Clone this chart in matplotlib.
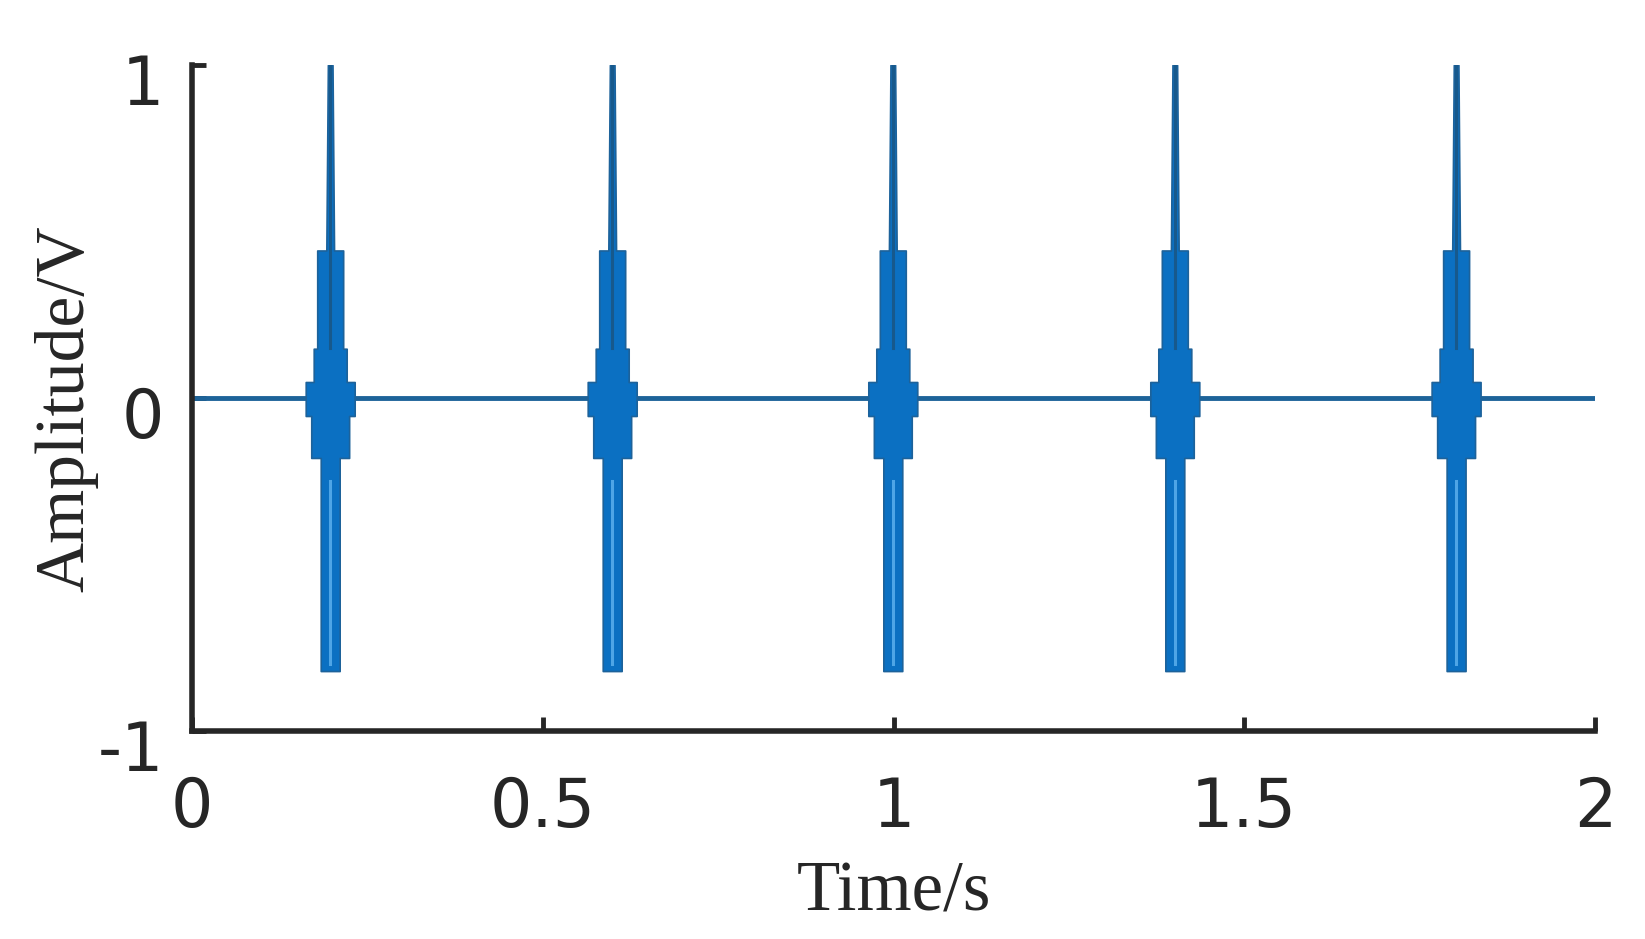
import matplotlib
matplotlib.use("Agg")
import matplotlib.pyplot as plt
from matplotlib.transforms import ScaledTranslation

# centres of the five bursts (s)
burst_t = [0.197, 0.599, 0.999, 1.401, 1.802]

# burst outline: amplitude levels and half width (s)
env_y = [1.0, 0.443, 0.443, 0.148, 0.148, 0.048, 0.048, -0.054, -0.054, -0.18, -0.18, -0.82]
env_hw = [0.0033, 0.0055, 0.0185, 0.0185, 0.0235, 0.0235, 0.0349, 0.0349, 0.027, 0.027, 0.0135, 0.0135]

# darker core of the upper spike, lighter gap in the lower part
core_y = [1.0, 0.15]
gap_y = [-0.25, -0.80]

# baseline between bursts
base_t = [0.0, 2.0]
base_y = [0.0, 0.0]

x_ticks = [0, 0.5, 1, 1.5, 2]
x_labels = ["0", "0.5", "1", "1.5", "2"]
y_ticks = [-1, 0, 1]
y_labels = ["-1", "0", "1"]

blue = "#0b70c2"
dark = "#262626"

fig = plt.figure(figsize=(16.45, 9.39), dpi=100)
ax = fig.add_axes([192 / 1645, 1 - 731 / 939, (1595 - 192) / 1645, (731 - 65) / 939])

ax.plot(base_t, base_y, color="#1d6399", lw=3.5, zorder=2)
for c in burst_t:
    left = [c - h for h in env_hw]
    right = [c + h for h in env_hw]
    ax.fill_betweenx(env_y, left, right, facecolor=blue, edgecolor="#1d629a", lw=1.2, zorder=3)
    ax.plot([c, c], core_y, color="#17598c", lw=2.2, zorder=4)
    ax.plot([c, c], gap_y, color="#4ea5e6", lw=2.2, zorder=4)

ax.set_xlim(0, 2)
ax.set_ylim(-1, 1)
ax.set_xticks(x_ticks)
ax.set_xticklabels(x_labels)
ax.set_yticks(y_ticks)
ax.set_yticklabels(y_labels)

for s in ["top", "right"]:
    ax.spines[s].set_visible(False)
for s in ["left", "bottom"]:
    ax.spines[s].set_linewidth(4)
    ax.spines[s].set_color(dark)

ax.tick_params(direction="in", length=10, width=3.5, color=dark, labelcolor=dark,
               labelsize=48)
ax.tick_params(axis="x", pad=32)
ax.tick_params(axis="y", pad=20)
for lab in ax.get_xticklabels() + ax.get_yticklabels():
    lab.set_fontfamily("DejaVu Sans")
for lab in ax.get_yticklabels():
    lab.set_transform(lab.get_transform() + ScaledTranslation(0, -14 / 100, fig.dpi_scale_trans))

ax.set_xlabel("Time/s", fontsize=51, family="Liberation Serif", color=dark)
ax.set_ylabel("Amplitude/V", fontsize=50, family="Liberation Serif", color=dark)
ax.xaxis.set_label_coords(0.5, -0.195)
ax.yaxis.set_label_coords(-0.067, 0.484)

fig.savefig("out.png", dpi=100)
